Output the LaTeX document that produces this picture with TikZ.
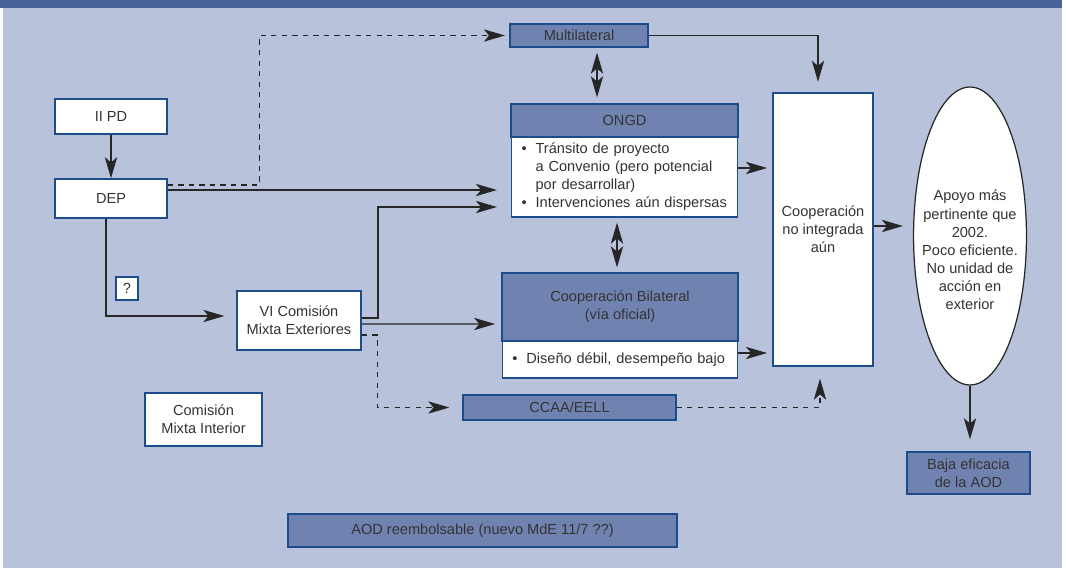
\documentclass[tikz,border=0pt]{standalone}
\usepackage{xcolor}
\usepackage{fontspec}
\setmainfont{Liberation Sans}
\usepackage{tikz}
\usetikzlibrary{arrows.meta,shapes.geometric,calc}
\definecolor{pagefill}{rgb}{0.725,   0.761,   0.859}
\definecolor{barfill}{rgb}{0.275,   0.388,   0.604}
\definecolor{darkfill}{rgb}{0.439,   0.514,   0.690}
\definecolor{boxline}{rgb}{0.110,   0.300,   0.550}
\definecolor{textgray}{rgb}{0.200,   0.200,   0.200}

\begin{document}
\begin{tikzpicture}[x=0.02cm,y=-0.02cm]
\tikzset{whitebox/.style={draw=boxline, fill=white, line width=0.8pt, align=center, inner sep=0pt, text=textgray},
darkbox/.style={whitebox, fill=darkfill},
listbox/.style={whitebox, align=left, inner xsep=5.7pt, inner ysep=0pt},
conn/.style={draw=black!85, line width=0.8pt, -{Stealth[length=12pt,width=7pt,inset=3pt]}},
dashconn/.style={conn, dashed},
twoway/.style={draw=black!85, line width=0.8pt, {Stealth[length=12pt,width=7pt,inset=3pt]}-{Stealth[length=12pt,width=7pt,inset=3pt]}}}
\fontsize{8.3pt}{10.3pt}
\selectfont
\useasboundingbox (0,0) rectangle (1066,572);
\fill[white] (0,0) rectangle (1066,572);
\fill[pagefill] (3,8) rectangle (1062,568);
\fill[barfill] (0,0) rectangle (1062,8);

% left column
\node (iipd) at (111,116.5) [whitebox, minimum width=2.24cm, minimum height=0.70cm] {II PD};
\node (dep) at (111,198.5) [whitebox, minimum width=2.24cm, minimum height=0.78cm] {DEP};
\node (quest) at (127,288.5) [whitebox, minimum width=0.44cm, minimum height=0.46cm] {?};
\node (vicom) at (299,320.5) [whitebox, minimum width=2.48cm, minimum height=1.18cm] {VI Comisión\\Mixta Exteriores};
\node (cmint) at (203.5,419.5) [whitebox, minimum width=2.34cm, minimum height=1.06cm] {Comisión\\Mixta Interior};

% middle column
\node (mult) at (579,35.5) [darkbox, minimum width=2.76cm, minimum height=0.46cm] {Multilateral};
\node (ongdh) at (624.5,120.5) [darkbox, minimum width=4.54cm, minimum height=0.66cm] {ONGD};
\node (ongd) at (624.5,177) [listbox, text width=117pt, minimum height=1.60cm] {%
\begin{tabular}{@{}l@{\hspace{5pt}}l@{}}
\textbullet & Tránsito de proyecto\\
 & a Convenio (pero potencial\\
 & por desarrollar)\\
\textbullet & Intervenciones aún dispersas
\end{tabular}};
\node (bilh) at (620,307) [darkbox, minimum width=4.72cm, minimum height=1.36cm] {Cooperación Bilateral\\(vía oficial)};
\node (bil) at (620,359.5) [listbox, text width=122.4pt, minimum height=0.74cm] {%
\begin{tabular}{@{}l@{\hspace{5pt}}l@{}}
\textbullet & Diseño débil, desempeño bajo
\end{tabular}};
\node (ccaa) at (569.5,407.5) [darkbox, minimum width=4.26cm, minimum height=0.50cm] {CCAA/EELL};
\node (aod) at (482.5,530.5) [darkbox, minimum width=7.78cm, minimum height=0.66cm] {AOD reembolsable (nuevo MdE 11/7 ??)};

% right column
\node (coop) at (823,229.5) [whitebox, minimum width=2.00cm, minimum height=5.46cm] {Cooperación\\no integrada\\aún};
\node (apoyo) at (970,236) [ellipse, draw=black!85, fill=white, line width=0.7pt, inner xsep=-4.5pt, inner ysep=0pt, align=center, text=textgray, minimum width=2.20cm, minimum height=5.96cm] {\rule{0pt}{22pt}Apoyo más\\pertinente que\\2002.\\Poco eficiente.\\No unidad de\\acción en\\exterior};
\node (baja) at (968.5,473) [darkbox, minimum width=2.46cm, minimum height=0.84cm] {Baja eficacia\\de la AOD};

% connectors
\draw[conn] (iipd) -- (dep);
\draw[dashconn, shorten >=2.5pt] ($(dep.east)+(0,-13.5)$) -| ($(mult.west)+(-250,0)$) -- (mult.west);
\draw[conn, shorten >=8pt] ($(dep.east)+(0,-8.5)$) -- ($(ongd.west)+(0,13)$);
\draw[conn, shorten >=6.8pt] ($(dep.south)+(-5,0)$) |- ($(vicom.west)+(0,-4.5)$);
\draw[conn, shorten >=8pt] ($(vicom.east)+(0,-2.5)$) -| ($(ongd.west)+(-133,30)$) -- ($(ongd.west)+(0,30)$);
\draw[conn, shorten >=3.5pt] ($(vicom.east)+(0,3.5)$) -- ($(bilh.west)+(0,17)$);
\draw[dashconn, shorten >=7.4pt] ($(vicom.east)+(0,14.5)$) -| ($(ccaa.west)+(-85,0)$) -- (ccaa.west);
\draw[conn, shorten >=6pt] (mult.east) -| ($(coop.north)+(-5,0)$);
\draw[twoway, shorten <=2.8pt, shorten >=3.4pt] ($(mult.south)+(18,0)$) -- ($(ongdh.north)+(-27.5,0)$);
\draw[twoway, shorten <=2.8pt, shorten >=2.8pt] ($(ongd.south)+(-7.5,0)$) -- ($(bilh.north)+(-3,0)$);
\draw[conn, shorten >=3pt] ($(ongd.east)+(0,-9)$) coordinate (o1) -- (o1 -| coop.west);
\draw[conn, shorten >=3pt] ($(bil.east)+(0,-6.5)$) coordinate (b1) -- (b1 -| coop.west);
\draw[dashconn, shorten >=6.8pt] (ccaa.east) -| ($(coop.south)+(-3,0)$);
\draw[conn, shorten >=5.7pt] ($(coop.east)+(0,-3.5)$) coordinate (c1) -- (c1 -| apoyo.west);
\draw[conn, shorten >=6.8pt] (apoyo.south) -- (apoyo.south |- baja.north);

\end{tikzpicture}
\end{document}
